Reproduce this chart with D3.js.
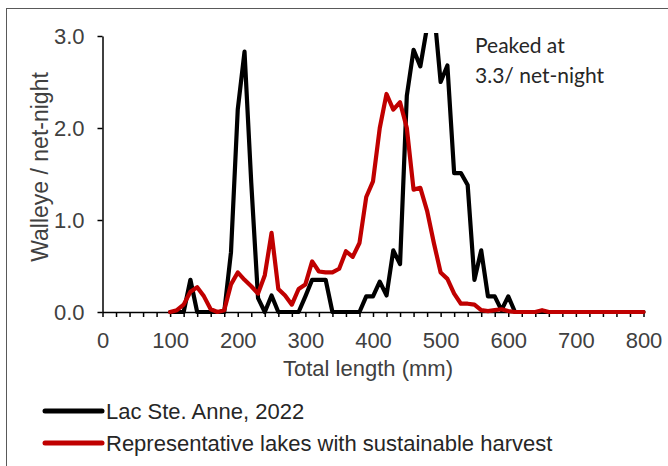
<!DOCTYPE html>
<html>
<head>
<meta charset="utf-8">
<script src="https://cdn.jsdelivr.net/npm/d3@7"></script>
<style>
  html, body { margin: 0; padding: 0; background: #fff; }
  svg { display: block; }
  text { font-family: "Liberation Sans", Arial, sans-serif; }
</style>
</head>
<body>
<svg id="chart" width="668" height="466"></svg>
<script>
// ---------- DATA ----------
const lengths = [100,110,120,130,140,150,160,170,180,190,200,210,220,230,240,250,260,270,280,290,
  300,310,320,330,340,350,360,370,380,390,400,410,420,430,440,450,460,470,480,490,
  500,510,520,530,540,550,560,570,580,590,600,610,620,630,640,650,660,670,680,690,
  700,710,720,730,740,750,760,770,780,790,800];

const lacSteAnne = [0,0,0,0.35,0,0,0,0,0,0.65,2.2,2.83,1.4,0.15,0,0.18,0,0,0,0,
  0.17,0.35,0.35,0.35,0,0,0,0,0,0.17,0.17,0.33,0.18,0.67,0.52,2.35,2.85,2.67,3.1,3.3,
  2.5,2.68,1.51,1.51,1.38,0.35,0.67,0.17,0.17,0.02,0.17,0,0,0,0,0,0,0,0,0,
  0,0,0,0,0,0,0,0,0,0,0];

const representative = [0,0.02,0.08,0.22,0.27,0.17,0.03,0,0.02,0.3,0.43,0.35,0.28,0.2,0.4,0.86,0.25,0.18,0.08,0.25,
  0.3,0.55,0.44,0.43,0.43,0.47,0.66,0.6,0.75,1.25,1.42,2.0,2.37,2.2,2.28,2.0,1.33,1.35,1.1,0.75,
  0.43,0.36,0.2,0.09,0.09,0.08,0.02,0.01,0.02,0.03,0.01,0,0,0,0,0.02,0,0,0,0,
  0,0,0,0,0,0,0,0,0,0,0];

const xMinorTicks = [0,20,40,60,80,100,120,140,160,180,200,220,240,260,280,300,320,340,360,380,
  400,420,440,460,480,500,520,540,560,580,600,620,640,660,680,700,720,740,760,780,800];
const xTickLabels = [0,100,200,300,400,500,600,700,800];
const yTicks = [0,1,2,3];

const seriesNames = ["Lac Ste. Anne, 2022", "Representative lakes with sustainable harvest"];
const seriesColors = ["#000000", "#c00000"];
const annotation = ["Peaked at", "3.3/ net-night"];

// ---------- CHART ----------
const svg = d3.select("#chart");
const W = 668, H = 466;

// outer frame (cropped at right/bottom)
svg.append("rect")
  .attr("x", 6.5).attr("y", 8.5)
  .attr("width", 700).attr("height", 500)
  .attr("fill", "none").attr("stroke", "#595959").attr("stroke-width", 1);

const x = d3.scaleLinear().domain([0, 800]).range([102.5, 643.5]);
const y = d3.scaleLinear().domain([0, 3]).range([312, 36]);

// clip for lines (plot area)
svg.append("clipPath").attr("id", "plotclip")
  .append("rect")
  .attr("x", 0).attr("y", y(3) - 3)
  .attr("width", W).attr("height", H);

const axisColor = "#000";
const labelColor = "#404040";
const fs = 22;

// x axis
const xAxis = svg.append("g").attr("transform", `translate(0,${y(0)})`)
  .call(d3.axisBottom(x).tickValues(xMinorTicks).tickSize(5).tickSizeOuter(0)
    .tickFormat(d => xTickLabels.includes(d) ? d3.format("d")(d) : ""));
xAxis.select(".domain").attr("stroke", axisColor).attr("stroke-width", 1.5);
xAxis.selectAll(".tick line").attr("stroke", axisColor).attr("stroke-width", 1.5);
xAxis.selectAll(".tick text")
  .attr("fill", labelColor).attr("font-size", fs).attr("y", 20)
  .style("font-family", '"Liberation Sans", Arial, sans-serif');

// y axis
const yAxis = svg.append("g").attr("transform", `translate(${x(0)},0)`)
  .call(d3.axisLeft(y).tickValues(yTicks).tickSize(5).tickSizeOuter(0)
    .tickFormat(d3.format(".1f")));
yAxis.select(".domain").attr("stroke", axisColor).attr("stroke-width", 1.5);
yAxis.selectAll(".tick line").attr("stroke", axisColor).attr("stroke-width", 1.5);
yAxis.selectAll(".tick text")
  .attr("fill", labelColor).attr("font-size", fs).attr("x", -18)
  .style("font-family", '"Liberation Sans", Arial, sans-serif');

// axis titles
svg.append("text")
  .attr("x", 368).attr("y", 376)
  .attr("text-anchor", "middle").attr("font-size", fs).attr("fill", labelColor)
  .text("Total length (mm)");

svg.append("text")
  .attr("transform", `translate(48,167) rotate(-90)`)
  .attr("text-anchor", "middle").attr("font-size", 23).attr("fill", labelColor)
  .text("Walleye / net-night");

// lines
const line = d3.line().x(d => x(d[0])).y(d => y(d[1]));
const allSeries = [lacSteAnne, representative];
const gLines = svg.append("g").attr("clip-path", "url(#plotclip)");
allSeries.forEach((vals, i) => {
  gLines.append("path")
    .datum(lengths.map((l, j) => [l, vals[j]]))
    .attr("fill", "none")
    .attr("stroke", seriesColors[i])
    .attr("stroke-width", 4.2)
    .attr("stroke-linejoin", "round")
    .attr("stroke-linecap", "round")
    .attr("d", line);
});

// annotation
const ann = svg.append("text")
  .attr("x", 475).attr("y", 53)
  .attr("font-size", 21).attr("fill", "#262626")
  .style("font-family", "Lato, 'Open Sans', sans-serif");
annotation.forEach((t, i) => {
  ann.append("tspan").attr("x", 475).attr("dy", i === 0 ? 0 : 30).text(t);
});

// legend
const legendY = [411, 443];
seriesNames.forEach((name, i) => {
  svg.append("line")
    .attr("x1", 45).attr("x2", 102)
    .attr("y1", legendY[i]).attr("y2", legendY[i])
    .attr("stroke", seriesColors[i]).attr("stroke-width", 5)
    .attr("stroke-linecap", "round");
  svg.append("text")
    .attr("x", 106).attr("y", legendY[i] + 8)
    .attr("font-size", fs).attr("fill", "#262626")
    .text(name);
});
</script>
</body>
</html>
